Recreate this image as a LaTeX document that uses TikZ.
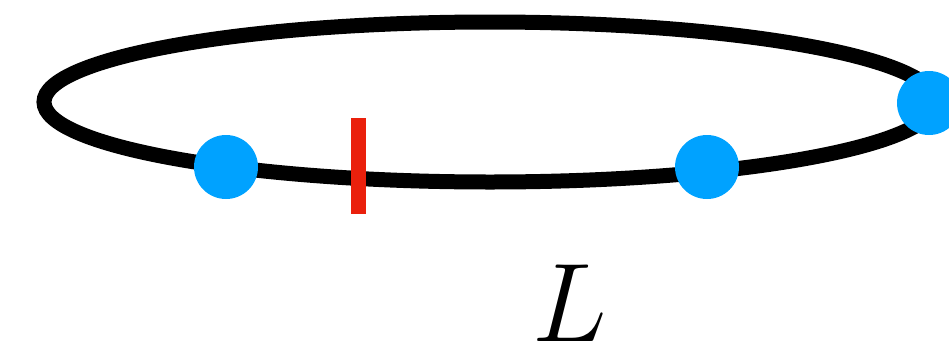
\documentclass[tikz,border=0pt]{standalone}
\usepackage{tikz}
\usetikzlibrary{positioning}
\tikzset{
  ringline/.style={draw=black, line width=15pt},
  bead/.style    ={circle, fill=beadblue, inner sep=0pt,
                   minimum size=64pt},
  cutmark/.style ={draw=cutred, line width=15pt},
  lenlabel/.style={inner sep=0pt, font=\Huge, scale=4.5},
}
\definecolor{beadblue}{RGB}{0,162,255}
\definecolor{cutred}  {RGB}{234,32,12}
\begin{document}
\begin{tikzpicture}[x=1pt,y=-1pt]
  \useasboundingbox (0,0) rectangle (949,362);
  % ring
  \draw[ringline] (490,102) ellipse [x radius=446, y radius=80];
  % beads on the ring
  \node[bead] (b1) at (226,167) {};
  \node[bead] (b2) at (707,167) {};
  \node[bead] (b3) at (929,103) {};
  % cut
  \coordinate (cuttop) at (358,118);
  \coordinate (cutbot) at (358,214);
  \draw[cutmark] (cuttop) -- (cutbot);
  % length
  \node[lenlabel] (len) at (570,303) {$L$};
\end{tikzpicture}
\end{document}
